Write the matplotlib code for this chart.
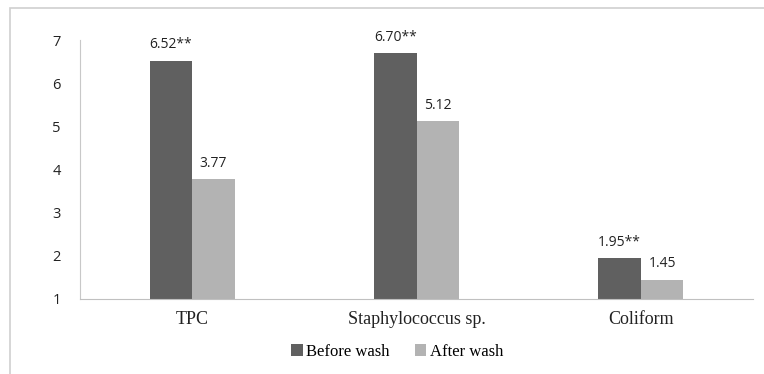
import matplotlib.pyplot as plt
import numpy as np
from matplotlib.patches import Rectangle

categories = ['TPC', 'Staphylococcus sp.', 'Coliform']
before_wash = [6.52, 6.70, 1.95]
after_wash = [3.77, 5.12, 1.45]
before_labels = ['6.52**', '6.70**', '1.95**']
after_labels = ['3.77', '5.12', '1.45']

fig = plt.figure(figsize=(7.64, 3.74), dpi=100)
ax = fig.add_axes([80 / 764, 75 / 374, 673 / 764, 259 / 374])

# outer frame (cut off at right and bottom like the reference)
fig.patches.append(Rectangle((10 / 764, -0.1), 1.2, 1 - 8 / 374 + 0.1, transform=fig.transFigure,
                             fill=False, edgecolor='#cfcfcf', linewidth=1.2))

x = np.arange(len(categories))
w = 0.19
bars1 = ax.bar(x - w / 2, [v - 1 for v in before_wash], w, bottom=1, color='#606060', label='Before wash')
bars2 = ax.bar(x + w / 2, [v - 1 for v in after_wash], w, bottom=1, color='#b3b3b3', label='After wash')

for b, t in zip(bars1, before_labels):
    ax.annotate(t, (b.get_x() + b.get_width() / 2, b.get_y() + b.get_height()), xytext=(0, 6),
                textcoords='offset points', ha='center', va='bottom', fontsize=10,
                family='Open Sans', color='#222222')
for b, t in zip(bars2, after_labels):
    ax.annotate(t, (b.get_x() + b.get_width() / 2, b.get_y() + b.get_height()), xytext=(0, 6),
                textcoords='offset points', ha='center', va='bottom', fontsize=10,
                family='Open Sans', color='#222222')

ax.set_xlim(-0.5, 2.5)
ax.set_ylim(1, 7)
ax.set_yticks(range(1, 8))
ax.set_xticks(x)
ax.set_xticklabels(categories, family='Liberation Serif', fontsize=13, color='#222222')
ax.tick_params(axis='x', length=0, pad=9)
ax.tick_params(axis='y', length=0, pad=14, labelsize=10.5, labelcolor='#222222')
for lab in ax.get_yticklabels():
    lab.set_family('Open Sans')
for s in ['top', 'right']:
    ax.spines[s].set_visible(False)
ax.spines['left'].set_color('#c8c8c8')
ax.spines['bottom'].set_color('#c0c0c0')

leg = fig.legend(loc='center', bbox_to_anchor=(397 / 764, 1 - 352 / 374), ncol=2, frameon=False,
                 prop={'family': 'Liberation Serif', 'size': 12}, handlelength=0.7, handleheight=0.7,
                 handletextpad=0.2, columnspacing=1.5)

fig.savefig('out.png', dpi=100)
